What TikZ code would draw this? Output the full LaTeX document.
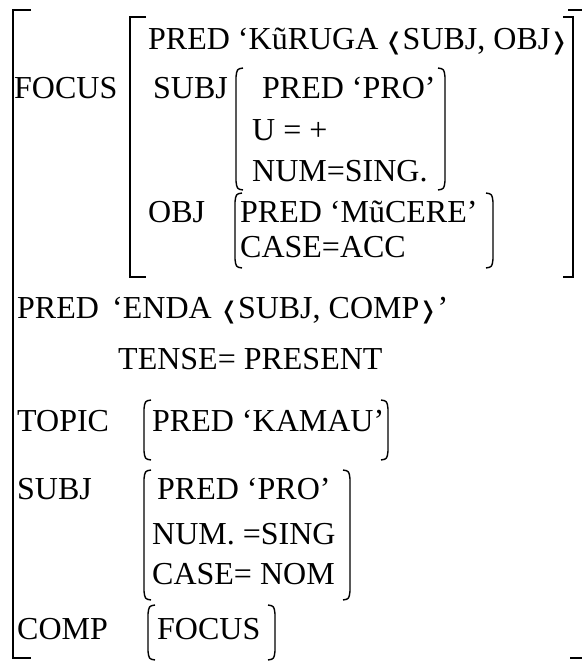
\documentclass[tikz,border=0pt]{standalone}
\usepackage{fontspec}
\setmainfont{Liberation Serif}
\newfontfamily\dvsans{DejaVu Sans}
\newcommand{\langl}{{\dvsans\fontsize{23}{30}\selectfont ❬\kern-1pt}}
\newcommand{\langr}{{\dvsans\fontsize{23}{30}\selectfont\kern-1pt❭}}
\begin{document}
\begin{tikzpicture}[x=1pt,y=-1pt,
  txt/.style={anchor=base west,inner sep=0pt,font=\fontsize{32}{38}\selectfont},
  brk/.style={line width=1.6pt,line cap=butt},
  paren/.style={line width=1.4pt}]
\useasboundingbox (0,0) rectangle (582,663);
% ---- outer bracket
\draw[brk] (31,10) -- (13,10) -- (13,658) -- (31,658);
\draw[brk] (568,10) -- (582,10);
\draw[brk] (570,658) -- (582,658);
% ---- inner FOCUS bracket
\draw[brk] (146,17) -- (130,17) -- (130,277) -- (146,277);
\draw[brk] (563,17) -- (573,17) -- (573,277) -- (563,277);
% ---- texts
\node[txt] (f1) at (148,50) {PRED ‘KũRUGA\kern-2pt\ \langl SUBJ, OBJ\langr};
\node[txt] (focus) at (14,99) {FOCUS};
\node[txt] (isubj) at (153,99) {SUBJ};
\node[txt] (ipred) at (262,99) {PRED ‘PRO’};
\node[txt] (iu) at (252,141) {U = +};
\node[txt] (inum) at (252,181) {NUM=SING.};
\node[txt] (iobj) at (148,222) {OBJ};
\node[txt] (opred) at (240,222) {PRED ‘MũCERE’};
\node[txt] (ocase) at (240,257) {CASE=ACC};
\node[txt] (pred) at (17,318) {PRED};
\node[txt] (enda) at (112,318) {‘ENDA \langl SUBJ, COMP\langr’};
\node[txt] (tense) at (118,369) {TENSE= PRESENT};
\node[txt] (topic) at (17,431) {TOPIC};
\node[txt] (kamau) at (152,431) {PRED ‘KAMAU’};
\node[txt] (subj) at (17,499) {SUBJ};
\node[txt] (spred) at (157,499) {PRED ‘PRO’};
\node[txt] (snum) at (152,544) {NUM. =SING};
\node[txt] (scase) at (152,584) {CASE= NOM};
\node[txt] (comp) at (17,639) {COMP};
\node[txt] (cfocus) at (157,639) {FOCUS};
% ---- delimiters
\newcommand{\ldelim}[3]{\draw[paren] (#1+7,#2) .. controls (#1+1,#2+1) .. (#1,#2+9) -- (#1,#3-9) .. controls (#1+1,#3-1) .. (#1+7,#3);}
\newcommand{\rdelim}[3]{\draw[paren] (#1-7,#2) .. controls (#1-1,#2+1) .. (#1,#2+9) -- (#1,#3-9) .. controls (#1-1,#3-1) .. (#1-7,#3);}
\ldelim{236}{68}{190}
\rdelim{445}{68}{190}
\ldelim{235}{193}{268}
\rdelim{493}{193}{268}
\ldelim{144}{400}{460}
\rdelim{388}{400}{460}
\ldelim{144}{470}{600}
\rdelim{350}{470}{600}
\ldelim{148}{605}{660}
\rdelim{275}{605}{660}
\end{tikzpicture}
\end{document}
